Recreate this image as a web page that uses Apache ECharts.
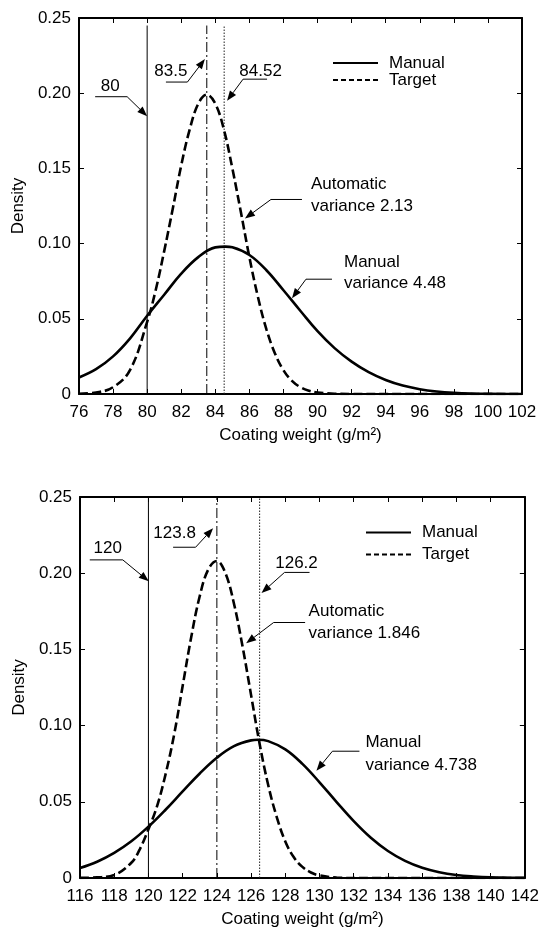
<!DOCTYPE html>
<html lang="en">
<head>
<meta charset="UTF-8">
<title>Coating weight density</title>
<script src="https://cdn.jsdelivr.net/npm/echarts@6/dist/echarts.min.js"></script>
<style>
    html, body { margin: 0; padding: 0; background: #fff; }
    #chart { width: 542px; height: 929px; }
</style>
</head>
<body>
<div id="chart"></div>
<script>
    // upper panel (target 80 g/m2)
    var topManualX = [76, 77, 78, 79, 80, 81, 82, 83, 84, 84.6, 85, 86, 87, 88, 89, 90, 91, 92, 93, 94, 95, 96, 97, 98, 99, 100, 101, 102];
    var topManualY = [0.011, 0.0165, 0.025, 0.037, 0.052, 0.066, 0.080, 0.091, 0.0975, 0.098, 0.0975, 0.0924, 0.0823, 0.069, 0.0552, 0.0418, 0.0305, 0.0215, 0.0145, 0.0093, 0.0056, 0.0032, 0.0017, 0.0008, 0.0003, 0.0001, 0, 0];
    var topAutoX = [76, 77, 78, 79, 80, 80.5, 81, 81.5, 82, 82.5, 83, 83.5, 84, 84.5, 85, 85.5, 86, 86.5, 87, 87.5, 88, 88.5, 89, 89.5, 90, 91, 92, 94, 102];
    var topAutoY = [0.0002, 0.001, 0.0045, 0.016, 0.048, 0.069, 0.095, 0.123, 0.152, 0.176, 0.193, 0.199, 0.193, 0.176, 0.150, 0.121, 0.091, 0.0646, 0.043, 0.027, 0.0158, 0.0087, 0.0045, 0.0022, 0.001, 0.0002, 0, 0, 0];
    var topRefX = [80, 83.5, 84.52];

    // lower panel (target 120 g/m2)
    var botManualX = [116, 117, 118, 119, 120, 121, 122, 123, 124, 125, 126, 126.4, 127, 128, 129, 130, 131, 132, 133, 134, 135, 136, 137, 138, 139, 140, 141, 142];
    var botManualY = [0.0066, 0.0107, 0.0165, 0.0241, 0.0337, 0.0448, 0.0568, 0.0686, 0.0789, 0.0865, 0.0903, 0.0907, 0.0898, 0.0844, 0.0749, 0.0628, 0.0498, 0.0373, 0.0264, 0.0177, 0.0112, 0.0067, 0.0038, 0.002, 0.001, 0.0004, 0.0002, 0.0001];
    var botAutoX = [116, 117, 118, 119, 119.5, 120, 120.5, 121, 121.5, 122, 122.5, 123, 123.5, 124, 124.5, 125, 125.5, 126, 126.5, 127, 127.5, 128, 128.5, 129, 129.5, 130, 131, 132, 142];
    var botAutoY = [0.0001, 0.0004, 0.002, 0.010, 0.019, 0.032, 0.047, 0.068, 0.094, 0.126, 0.158, 0.185, 0.2025, 0.208, 0.200, 0.180, 0.152, 0.120, 0.088, 0.061, 0.040, 0.024, 0.0136, 0.0073, 0.0036, 0.0017, 0.0003, 0, 0];
    var botRefX = [120, 124.0, 126.5];

    var legendNames = ['Manual', 'Target'];

    var FONT = '"Liberation Sans", Arial, Helvetica, sans-serif';
    var DASH = [9, 4];
    var DASHDOT = [10, 3, 2, 3];
    var DOTS = [1.5, 1.5];

    function pairs(xs, ys) {
        return xs.map(function (x, i) { return [x, ys[i]]; });
    }

    function xAxisOf(grid, min, max, pos) {
        var bottom = pos === 'bottom';
        return {
            type: 'value', gridIndex: grid, position: pos, min: min, max: max, interval: 2,
            axisLine: {show: true, onZero: false, lineStyle: {color: '#000', width: 2}},
            axisTick: {show: true, inside: true, length: 5, lineStyle: {color: '#000', width: 1}},
            axisLabel: {show: bottom, color: '#000', fontSize: 17, margin: 10, fontFamily: FONT},
            splitLine: {show: false},
            name: bottom ? 'Coating weight (g/m²)' : '',
            nameLocation: 'middle',
            nameGap: 33,
            nameTextStyle: {color: '#000', fontSize: 17, fontFamily: FONT}
        };
    }

    function yAxisOf(grid, pos) {
        var left = pos === 'left';
        return {
            type: 'value', gridIndex: grid, position: pos, min: 0, max: 0.25, interval: 0.05,
            axisLine: {show: true, onZero: false, lineStyle: {color: '#000', width: 2}},
            axisTick: {show: true, inside: true, length: 5, lineStyle: {color: '#000', width: 1}},
            axisLabel: {
                show: left, color: '#000', fontSize: 17, margin: 8, fontFamily: FONT,
                formatter: function (v) { return v === 0 ? '0' : v.toFixed(2); }
            },
            splitLine: {show: false},
            name: left ? 'Density' : '',
            nameLocation: 'middle',
            nameGap: 49,
            nameTextStyle: {color: '#000', fontSize: 17, fontFamily: FONT}
        };
    }

    function curve(name, grid, data, dashed) {
        return {
            name: name, type: 'line', xAxisIndex: grid * 2, yAxisIndex: grid * 2,
            data: data, symbol: 'none', smooth: 0.4, z: 4,
            lineStyle: {color: '#000', width: 2.6, type: dashed ? DASH : 'solid'},
            itemStyle: {color: '#000'}
        };
    }

    function refLine(grid, x, top, type, color) {
        return {
            name: 'ref', type: 'line', xAxisIndex: grid * 2, yAxisIndex: grid * 2,
            data: [[x, 0], [x, top]], symbol: 'none', z: 2, silent: true,
            lineStyle: {color: color, width: 1, type: type}
        };
    }

    var chart = echarts.init(document.getElementById('chart'));

    var option = {
        animation: false,
        backgroundColor: '#fff',
        textStyle: {fontFamily: FONT},
        grid: [
            {left: 79, top: 18, width: 443, height: 376},
            {left: 80, top: 497, width: 446, height: 386}
        ],
        xAxis: [
            xAxisOf(0, 76, 102, 'bottom'), xAxisOf(0, 76, 102, 'top'),
            xAxisOf(1, 116, 142, 'bottom'), xAxisOf(1, 116, 142, 'top')
        ],
        yAxis: [
            yAxisOf(0, 'left'), yAxisOf(0, 'right'),
            yAxisOf(1, 'left'), yAxisOf(1, 'right')
        ],
        series: [
            refLine(0, topRefX[0], 0.245, 'solid', '#000'),
            refLine(0, topRefX[1], 0.245, DASHDOT, '#000'),
            refLine(0, topRefX[2], 0.245, DOTS, '#222'),
            curve(legendNames[0], 0, pairs(topManualX, topManualY), false),
            curve(legendNames[1], 0, pairs(topAutoX, topAutoY), true),
            refLine(1, botRefX[0], 0.25, 'solid', '#000'),
            refLine(1, botRefX[1], 0.25, DASHDOT, '#000'),
            refLine(1, botRefX[2], 0.25, DOTS, '#222'),
            curve(legendNames[0], 1, pairs(botManualX, botManualY), false),
            curve(legendNames[1], 1, pairs(botAutoX, botAutoY), true)
        ]
    };
    chart.setOption(option);

    var els = [];

    function text(x, y, t, align) {
        els.push({
            type: 'text', silent: true, z: 10, x: x, y: y,
            style: {
                text: t, fill: '#000', font: '17px ' + FONT,
                align: align, verticalAlign: 'middle',
                textAlign: align, textVerticalAlign: 'middle'
            }
        });
    }

    // legend boxes drawn by hand: a line sample followed by the name
    var legends = [
        {x: 333, y: [63, 80]},
        {x: 366, y: [532.5, 554.5]}
    ];
    legends.forEach(function (lg) {
        legendNames.forEach(function (nm, i) {
            els.push({
                type: 'line', silent: true, z: 10,
                shape: {x1: lg.x, y1: lg.y[i], x2: lg.x + 45, y2: lg.y[i]},
                style: {stroke: '#000', lineWidth: 2, lineDash: i === 0 ? null : [5, 3]}
            });
            text(lg.x + 56, lg.y[i], nm, 'left');
        });
    });

    // callouts: arrow tip in data units, elbow/tail/text as pixel offsets from the tip
    var notes = [
        {grid: 0, tip: [80, 0.1847], elbow: [-20, -19.5], tail: -32, lines: ['80'], tx: -37, ty: [-30], align: 'center'},
        {grid: 0, tip: [83.39, 0.2227], elbow: [-17.5, 23], tail: -21.5, lines: ['83.5'], tx: -34, ty: [12], align: 'center'},
        {grid: 0, tip: [84.69, 0.1949], elbow: [16, -21.7], tail: 24, lines: ['84.52'], tx: 33.5, ty: [-29.7], align: 'center'},
        {grid: 0, tip: [85.74, 0.1167], elbow: [26, -19], tail: 31, lines: ['Automatic', 'variance 2.13'], tx: 66, ty: [-34, -12], align: 'left'},
        {grid: 0, tip: [88.5, 0.0637], elbow: [14, -19], tail: 26, lines: ['Manual', 'variance 4.48'], tx: 52, ty: [-36, -14.5], align: 'left'},
        {grid: 1, tip: [120.02, 0.1947], elbow: [-26, -21.4], tail: -33, lines: ['120'], tx: -41, ty: [-33], align: 'center'},
        {grid: 1, tip: [123.78, 0.2295], elbow: [-17.5, 19], tail: -22.5, lines: ['123.8'], tx: -38.5, ty: [5.2], align: 'center'},
        {grid: 1, tip: [126.61, 0.187], elbow: [23, -20.6], tail: 25, lines: ['126.2'], tx: 35, ty: [-30], align: 'center'},
        {grid: 1, tip: [125.71, 0.154], elbow: [27.5, -20.8], tail: 31.5, lines: ['Automatic', 'variance 1.846'], tx: 62.5, ty: [-32.3, -10.4], align: 'left'},
        {grid: 1, tip: [129.82, 0.0704], elbow: [16, -19.5], tail: 27, lines: ['Manual', 'variance 4.738'], tx: 49, ty: [-28.3, -5.7], align: 'left'}
    ];

    notes.forEach(function (n) {
        var p = chart.convertToPixel({gridIndex: n.grid}, n.tip);
        var ex = p[0] + n.elbow[0], ey = p[1] + n.elbow[1];
        var dx = p[0] - ex, dy = p[1] - ey;
        var len = Math.sqrt(dx * dx + dy * dy);
        var ux = dx / len, uy = dy / len;
        var hl = 10, hw = 3.8;
        var bx = p[0] - ux * hl, by = p[1] - uy * hl;
        els.push({
            type: 'polyline', silent: true, z: 10,
            shape: {points: [[ex + n.tail, ey], [ex, ey], [bx, by]]},
            style: {stroke: '#000', lineWidth: 1, fill: null}
        });
        els.push({
            type: 'polygon', silent: true, z: 10,
            shape: {points: [[p[0], p[1]], [bx - uy * hw, by + ux * hw], [bx + uy * hw, by - ux * hw]]},
            style: {fill: '#000'}
        });
        n.lines.forEach(function (t, i) {
            text(p[0] + n.tx, p[1] + n.ty[i], t, n.align);
        });
    });
    chart.setOption({graphic: els});
</script>
</body>
</html>
